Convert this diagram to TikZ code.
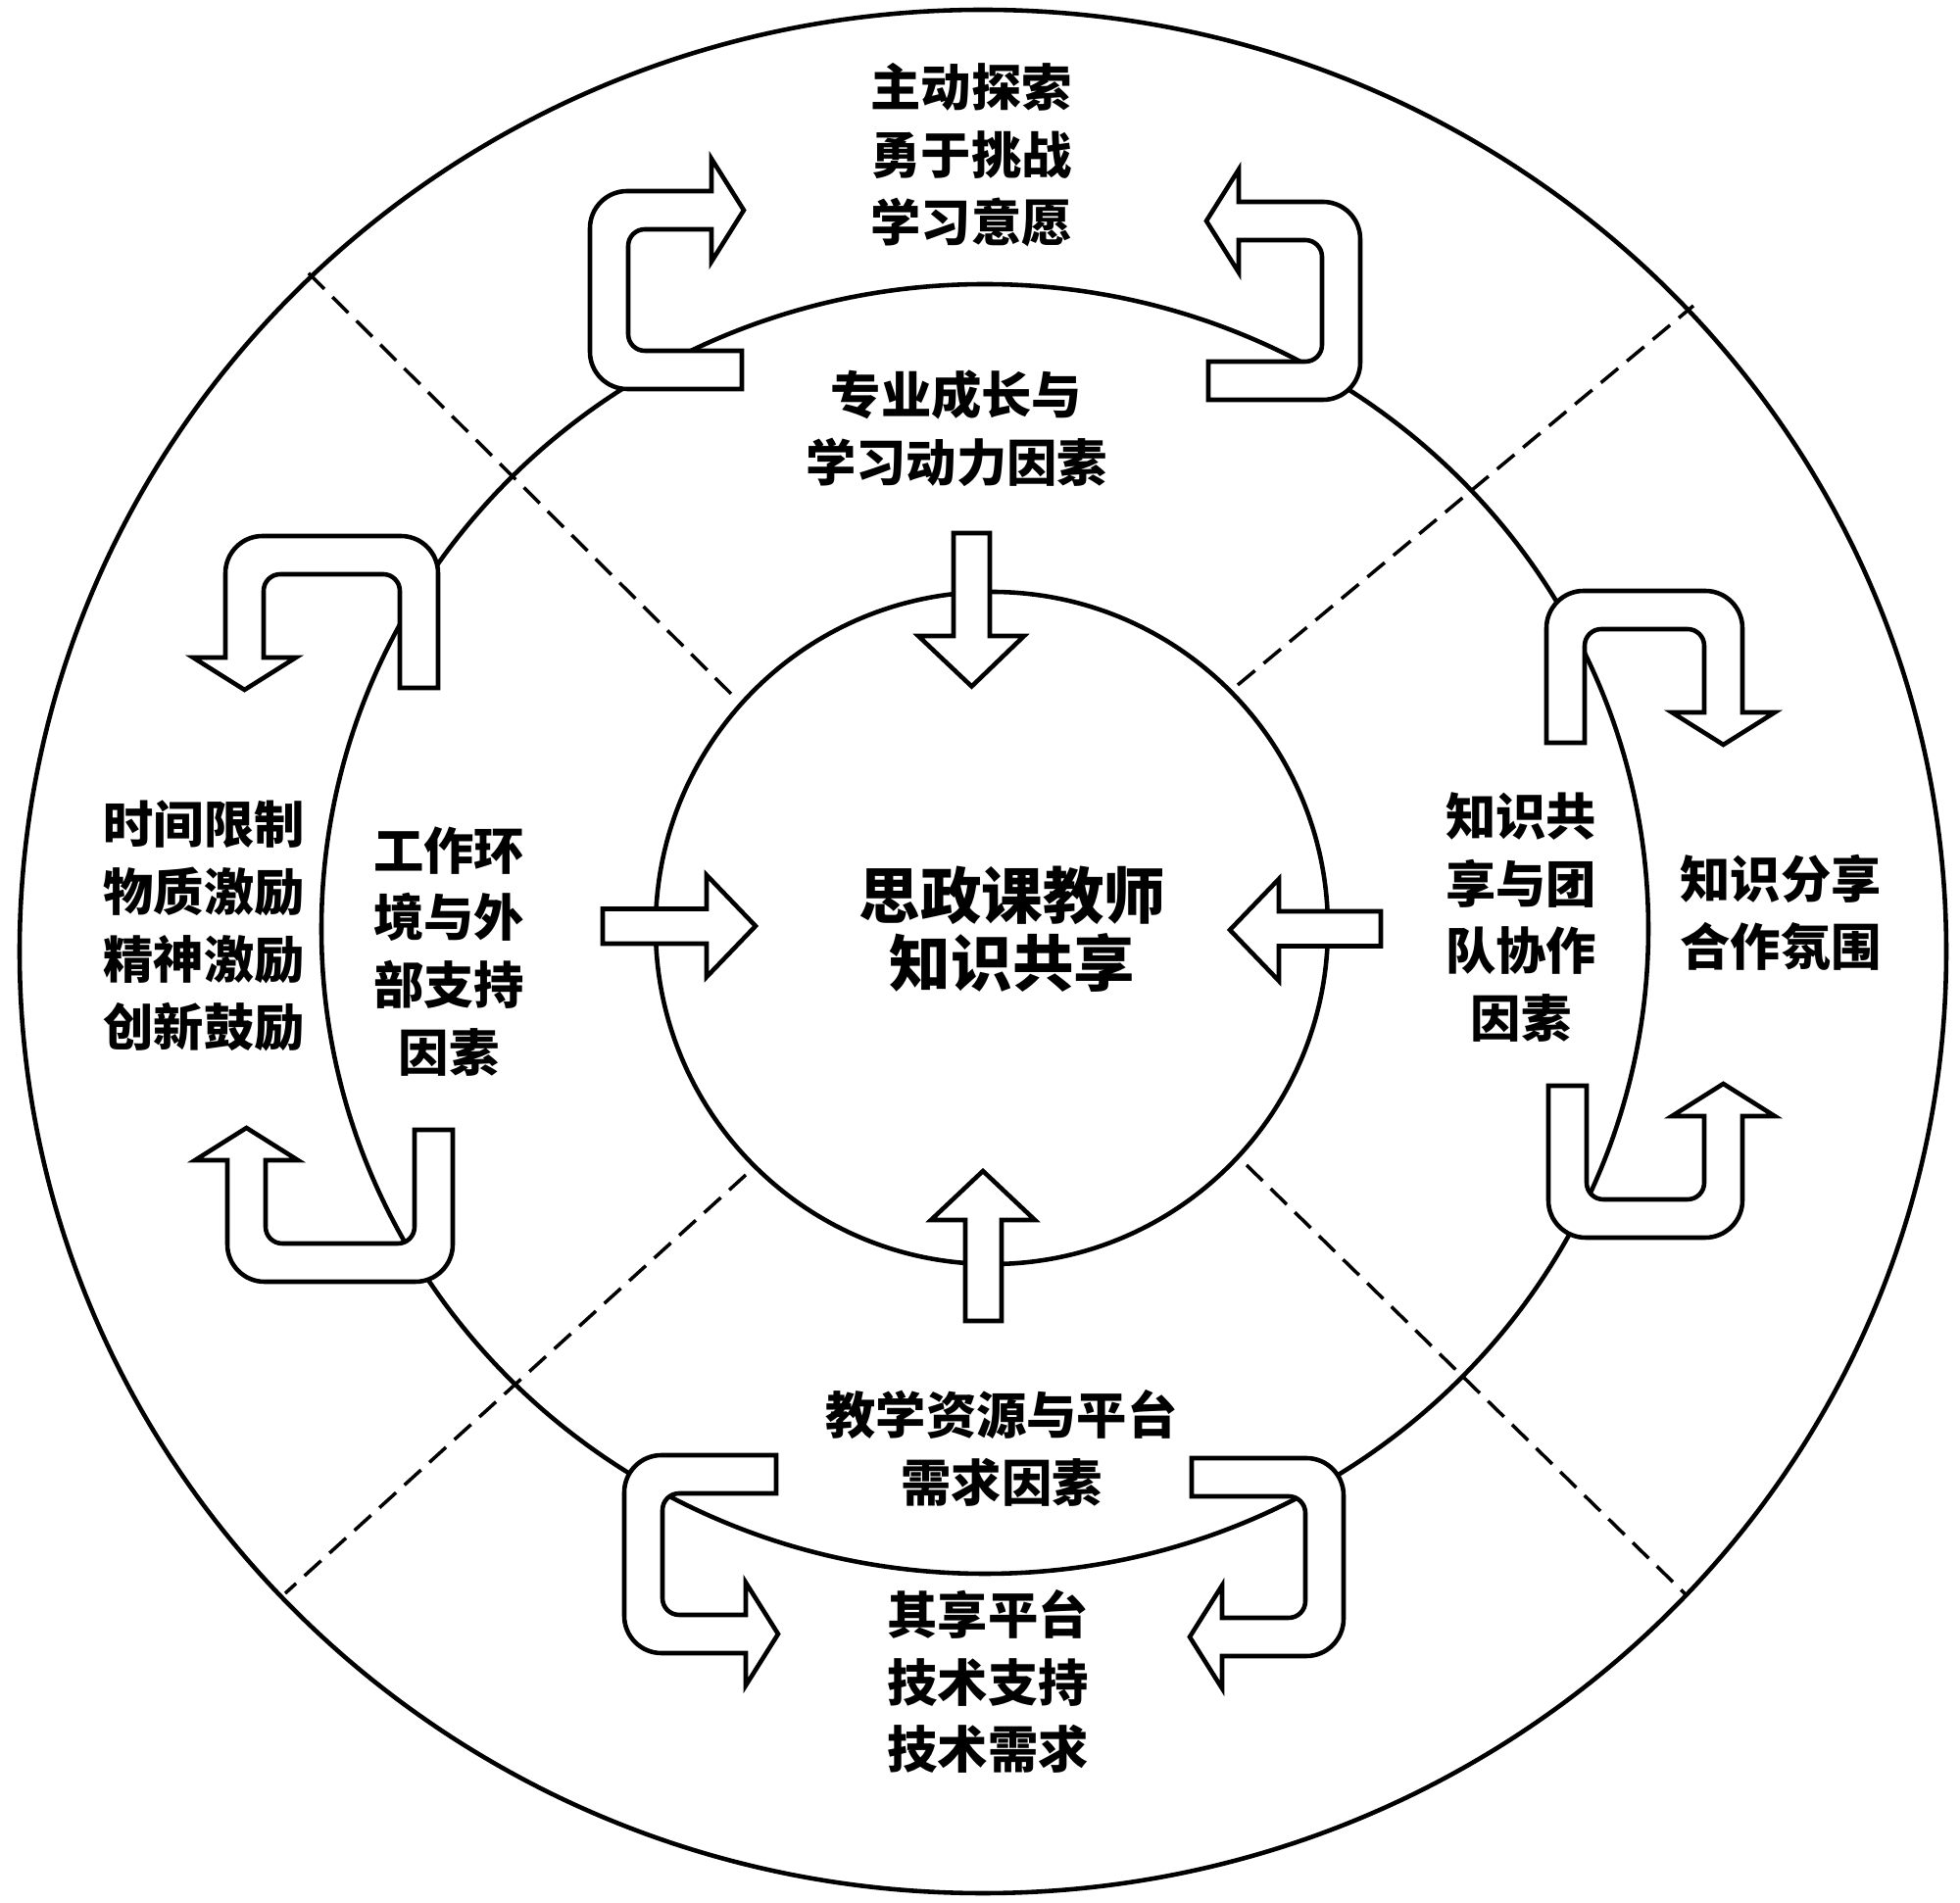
\documentclass[tikz,border=0pt]{standalone}
\usepackage{fontspec}
\newfontfamily\cjk{Noto Sans CJK SC}
\tikzset{
  ring/.style={draw=black, line width=1.3pt},
  divider/.style={draw=black, line width=1pt, dash pattern=on 6.5pt off 3.3pt},
  blockarrow/.style={draw=black, fill=white, line width=1.3pt, line join=miter},
  txt/.style={font=\cjk\bfseries\fontsize{14.6}{19.6}\selectfont, align=center, inner sep=0pt},
  centertxt/.style={font=\cjk\bfseries\fontsize{17.8}{19.6}\selectfont, align=center, inner sep=0pt},
}
% U-turn block arrow in local coordinates: back at x=0, arms along +x,
% head on the arm at y in [0,39], flat end on the arm at y in [#1-39,#1]
\newcommand{\UArrowShape}[1]{%
  \draw[blockarrow] (155,#1) -- (38,#1) .. controls (17,#1) and (0,{#1-17}) .. (0,{#1-38})
    -- (0,38) .. controls (0,17) and (17,0) .. (38,0)
    -- (124,0) -- (124,-33) -- (157,19.5) -- (124,72) -- (124,39)
    -- (56,39) .. controls (46.6,39) and (39,46.6) .. (39,56)
    -- (39,{#1-56}) .. controls (39,{#1-46.6}) and (46.6,{#1-39}) .. (56,{#1-39})
    -- (155,{#1-39}) -- cycle;}
\begin{document}
\begin{tikzpicture}[x=0.1mm, y=-0.1mm]
\useasboundingbox (0,0) rectangle (2000,1942);
\fill[white] (0,0) rectangle (2000,1942);

% circles
\draw[ring] (1003,971) ellipse [x radius=983, y radius=961];
\draw[ring] (1005,948) ellipse [x radius=677, y radius=658];
\draw[ring] (1012,947) circle [radius=343];

% dashed dividers
\draw[divider] (746,708) -- (310,274);
\draw[divider] (1263,699) -- (1728,312);
\draw[divider] (761,1199) -- (291,1626);
\draw[divider] (1272,1189) -- (1722,1629);

% straight block arrows into the centre
\draw[blockarrow] (973,544) -- (1010,544) -- (1010,649) -- (1045,649) -- (991.5,700.5) -- (937,649) -- (973,649) -- cycle;
\draw[blockarrow] (985,1348) -- (1022,1348) -- (1022,1245) -- (1056,1245) -- (1003,1195) -- (950,1245) -- (985,1245) -- cycle;
\draw[blockarrow] (615,927.5) -- (721,927.5) -- (721,893) -- (771,945) -- (721,997) -- (721,963) -- (615,963) -- cycle;
\draw[blockarrow] (1409,930) -- (1305,930) -- (1305,897) -- (1255,949) -- (1305,1001) -- (1305,965.5) -- (1409,965.5) -- cycle;

% U-turn arrows
\begin{scope}[shift={(602,195)}]\UArrowShape{202}\end{scope}
\begin{scope}[shift={(1388,206)}, x={(-0.1mm,0pt)}, y={(0pt,-0.1mm)}]\UArrowShape{202}\end{scope}
\begin{scope}[shift={(637,1687)}, x={(0.1mm,0pt)}, y={(0pt,0.1mm)}]\UArrowShape{202}\end{scope}
\begin{scope}[shift={(1371,1690)}, x={(-0.1mm,0pt)}, y={(0pt,0.1mm)}]\UArrowShape{202}\end{scope}
\begin{scope}[shift={(230,547)}, x={(0pt,-0.1mm)}, y={(0.1mm,0pt)}]\UArrowShape{217}\end{scope}
\begin{scope}[shift={(232,1308)}, x={(0pt,0.1mm)}, y={(0.1mm,0pt)}]\UArrowShape{230}\end{scope}
\begin{scope}[shift={(1778,603)}, x={(0pt,-0.1mm)}, y={(-0.1mm,0pt)}]\UArrowShape{200}\end{scope}
\begin{scope}[shift={(1778,1263)}, x={(0pt,0.1mm)}, y={(-0.1mm,0pt)}]\UArrowShape{198}\end{scope}

% texts
\node[txt] (t1) at (991,158) {主动探索\\勇于挑战\\学习意愿};
\node[txt] (t2) at (976,437) {专业成长与\\学习动力因素};
\node[txt] (t3) at (458,971) {工作环\\境与外\\部支持\\因素};
\node[txt] (t4) at (208,945) {时间限制\\物质激励\\精神激励\\创新鼓励};
\node[centertxt] (t5) at (1033,948) {思政课教师\\知识共享};
\node[txt] (t6) at (1552,936) {知识共\\享与团\\队协作\\因素};
\node[txt] (t7) at (1817,931) {知识分享\\合作氛围};
\node[txt] (t8) at (1022,1478) {教学资源与平台\\需求因素};
\node[txt] (t9) at (1008,1716) {其享平台\\技术支持\\技术需求};
\end{tikzpicture}
\end{document}
